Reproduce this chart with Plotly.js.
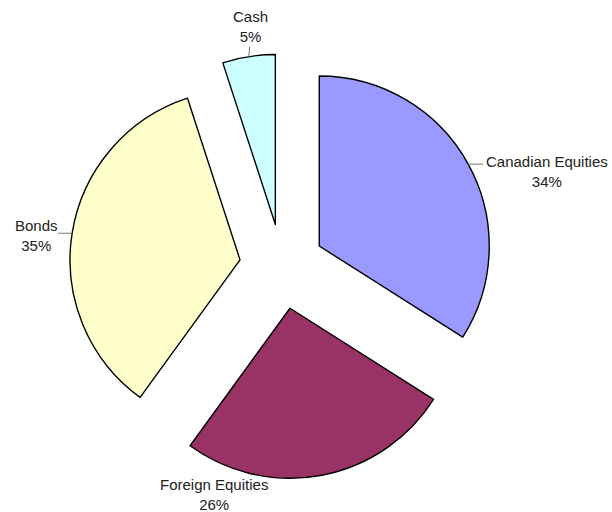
<!DOCTYPE html>
<html>
<head>
<meta charset="utf-8">
<script src="https://cdn.plot.ly/plotly-3.0.1.min.js"></script>
<style>html,body{margin:0;padding:0;background:#fff;}#chart{width:612px;height:512px;}</style>
</head>
<body>
<div id="chart"></div>
<script>
const categories = ["Canadian Equities", "Foreign Equities", "Bonds", "Cash"];
const values = [34, 26, 35, 5];
const percentLabels = ["34%", "26%", "35%", "5%"];
const colors = ["#9999FF", "#993366", "#FFFFCC", "#CCFFFF"];

// label layout (pixels): text block centre, and leader-line end offset from slice edge
const labelCentre = [[547, 171], [214, 494], [36, 235], [250, 26]];
const leaderEnd = [[15, 0], null, [-14, 0], [1, -10]];

const W = 612, H = 512;
const pull = 0.25;
const dom = { x: [69.5 / W, 494.5 / W], y: [33 / H, 458 / H] };

const trace = {
  type: "pie",
  labels: categories,
  values: values,
  sort: false,
  direction: "clockwise",
  rotation: 0,
  pull: categories.map(() => pull),
  marker: { colors: colors, line: { color: "#000000", width: 1.4 } },
  textinfo: "none",
  hoverinfo: "label+percent",
  showlegend: false,
  automargin: false,
  domain: dom
};

// geometry derived from domain (Plotly: r = half domain size / (1 + maxPull))
const cx = (dom.x[0] + dom.x[1]) / 2 * W;
const cy = H - (dom.y[0] + dom.y[1]) / 2 * H;
const r = Math.min((dom.x[1] - dom.x[0]) * W, (dom.y[1] - dom.y[0]) * H) / 2 / (1 + pull);
const total = values.reduce((a, b) => a + b, 0);

const annotations = [];
const shapes = [];
let cum = 0;
values.forEach((v, i) => {
  const mid = (cum + v / 2) / total * 2 * Math.PI;
  cum += v;
  const ax = cx + r * (1 + pull) * Math.sin(mid);
  const ay = cy - r * (1 + pull) * Math.cos(mid);
  if (leaderEnd[i]) {
    shapes.push({
      type: "line", xref: "paper", yref: "paper",
      x0: ax / W, y0: 1 - ay / H,
      x1: (ax + leaderEnd[i][0]) / W, y1: 1 - (ay + leaderEnd[i][1]) / H,
      line: { color: "#777777", width: 1 }
    });
  }
  annotations.push({
    xref: "paper", yref: "paper",
    x: labelCentre[i][0] / W, y: 1 - labelCentre[i][1] / H,
    xanchor: "center", yanchor: "middle",
    text: categories[i] + "<br>" + percentLabels[i],
    showarrow: false,
    align: "center",
    font: { family: "Liberation Sans, Arial, sans-serif", size: 15, color: "#222222" }
  });
});

const layout = {
  width: W, height: H,
  margin: { l: 0, r: 0, t: 0, b: 0 },
  paper_bgcolor: "#ffffff",
  showlegend: false,
  annotations: annotations,
  shapes: shapes
};

Plotly.newPlot("chart", [trace], layout, { displayModeBar: false, staticPlot: true });
</script>
</body>
</html>
